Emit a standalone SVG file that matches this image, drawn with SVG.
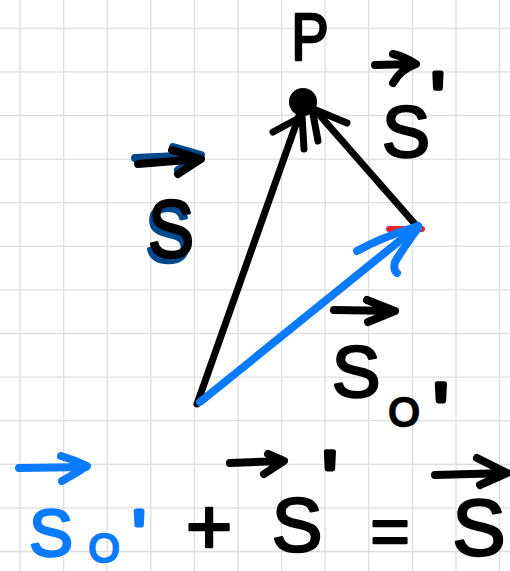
<svg xmlns="http://www.w3.org/2000/svg" width="510" height="571" viewBox="0 0 510 571">
<defs>
<style>
.grid{stroke:#dedede;stroke-width:1.3;fill:none}
.ink{fill:none;stroke:#000;stroke-width:7;stroke-linecap:round;stroke-linejoin:round}
.inkt{fill:none;stroke:#000;stroke-width:8;stroke-linecap:round;stroke-linejoin:round}
.blue{fill:none;stroke:#0a7aff;stroke-width:8;stroke-linecap:round;stroke-linejoin:round}
.dblue{fill:none;stroke:#02488c;stroke-width:8;stroke-linecap:round;stroke-linejoin:round}
.hw{font-family:"Liberation Sans",Arial,sans-serif;stroke-linejoin:round;stroke-linecap:round;stroke-width:2.5;text-anchor:middle}
.pr{stroke-width:5}
.k{fill:#000;stroke:#000}
.b{fill:#0a7aff;stroke:#0a7aff}
</style>
<filter id="shadow" x="-30%" y="-30%" width="160%" height="160%">
<feFlood flood-color="#02488c"/>
<feComposite in2="SourceAlpha" operator="in"/>
<feOffset dx="-3" dy="5" result="sh"/>
<feMerge><feMergeNode in="sh"/><feMergeNode in="SourceGraphic"/></feMerge>
</filter>
</defs>
<rect width="510" height="571" fill="#fff"/>
<g id="grid" class="grid">
<path d="M20,0V571M63.6,0V571M107.2,0V571M150.8,0V571M194.4,0V571M238,0V571M281.6,0V571M325.2,0V571M368.8,0V571M412.4,0V571M456,0V571M499.6,0V571"/>
<path d="M0,28.3H510M0,71.9H510M0,115.5H510M0,159.1H510M0,202.7H510M0,246.3H510M0,289.9H510M0,333.5H510M0,377.1H510M0,420.7H510M0,464.3H510M0,507.9H510M0,551.5H510"/>
</g>
<g id="connectors">
<path d="M389,229 L422,229" fill="none" stroke="#e3262b" stroke-width="6" stroke-linecap="round"/>
<path class="ink" d="M197,404 L300,113"/>
<path class="ink" d="M273,132 L299,118 M304,149 L302,116 M318,141 L313,114"/>
<path class="ink" d="M415,224 L316,111 M347,123 L311,108"/>
<path class="blue" d="M200,402 L418,226"/>
<path class="blue" d="M357,251 Q380,238 418,226 M418,228 Q402,250 395,262 Q393,270 397,273"/>
</g>
<g id="node-P">
<circle cx="303" cy="102" r="14" fill="#000"/>
<text class="hw k" font-size="66" transform="translate(310,60) scale(0.85,1)">P</text>
</g>
<g id="label-s">
<path class="dblue" d="M135,158 L200,155 M173,147 L201,155 L178,170"/>
<path class="inkt" d="M138,164 L200,159 M172,150 L201,159 L178,174"/>
<text class="hw k" font-size="82" filter="url(#shadow)" transform="translate(171,257) scale(0.85,1)">S</text>
</g>
<g id="label-s-prime">
<path class="inkt" d="M375,65 L415,64 M393,54 Q405,57 416,64 Q400,70 393,83"/>
<text class="hw k" font-size="72"><tspan x="406" y="157">S</tspan><tspan class="pr" x="438" y="122" font-size="70">'</tspan></text>
</g>
<g id="label-s-o-prime">
<path class="inkt" d="M334,310 L395,311 M367,300 L395,311 L368,322"/>
<text class="hw k" font-size="73"><tspan x="356" y="397">S</tspan><tspan x="404" y="426" font-size="40">O</tspan><tspan class="pr" x="441" y="439" font-size="80">'</tspan></text>
</g>
<g id="equation">
<path class="blue" d="M19,468 L86,467 M61,456 Q75,460 87,466 Q75,474 62,481"/>
<path class="inkt" d="M230,463 L283,461 M268,454 L284,461 L264,474"/>
<path class="inkt" d="M435,475 L507,473 M477,458 L507,473 L480,485"/>
<text class="hw" font-size="66"><tspan class="b" x="51" y="556">S</tspan><tspan class="b" x="104" y="562" font-size="40">O</tspan><tspan class="b pr" x="139" y="556" font-size="64">'</tspan><tspan class="k" x="209" y="554" font-size="80">+</tspan><tspan class="k" x="297" y="551" font-size="76">S</tspan><tspan class="k pr" x="330" y="507" font-size="80">'</tspan><tspan class="k" x="390" y="554" font-size="67">=</tspan><tspan class="k" x="479" y="555" font-size="80">S</tspan></text>
</g>
</svg>
